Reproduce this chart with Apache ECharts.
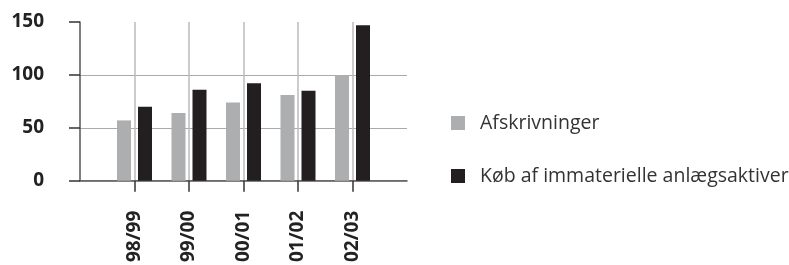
<!DOCTYPE html>
<html>
<head>
<meta charset="utf-8">
<script src="https://cdn.jsdelivr.net/npm/echarts@6/dist/echarts.min.js"></script>
<style>
  html, body { margin: 0; padding: 0; background: #fff; }
  #chart { width: 789px; height: 265px; }
</style>
</head>
<body>
<div id="chart"></div>
<script>
// Periods (regnskabsår)
const categories = ["98/99", "99/00", "00/01", "01/02", "02/03"];
const afskrivninger = [57, 64, 74, 81, 100];
const koebImmaterielle = [70, 86, 92, 85, 147];
const seriesNames = ["Afskrivninger", "Køb af immaterielle anlægsaktiver"];
const yTicks = [0, 50, 100, 150];

// bars sit on the tick lines, so pad the axis with an empty slot each side
const axisData = ["", ...categories, ""];
const pad = (arr) => ["-", ...arr, "-"];
const inner = (i) => i > 0 && i < axisData.length - 1;

const chart = echarts.init(document.getElementById("chart"));

const option = {
  animation: false,
  textStyle: { fontFamily: "Open Sans" },
  grid: { left: 80, right: 382, top: 22, bottom: 83 },
  legend: {
    orient: "vertical",
    left: 446,
    top: 108,
    itemWidth: 14,
    itemHeight: 14,
    itemGap: 33,
    icon: "rect",
    textStyle: { fontSize: 19.5, color: "#333", padding: [0, 0, 0, 10] },
    data: seriesNames,
  },
  xAxis: {
    type: "category",
    data: axisData,
    boundaryGap: false,
    axisLine: { lineStyle: { color: "#555", width: 1.5 } },
    axisTick: {
      length: 11,
      interval: inner,
      lineStyle: { color: "#333", width: 1.5 },
    },
    splitLine: {
      show: true,
      interval: inner,
      lineStyle: { color: "#bbb", width: 1.5 },
    },
    axisLabel: {
      rotate: 90,
      margin: 30,
      fontSize: 19,
      fontWeight: "bold",
      color: "#222",
      interval: 0,
    },
  },
  yAxis: {
    type: "value",
    min: yTicks[0],
    max: yTicks[yTicks.length - 1],
    interval: 50,
    axisLine: { show: true, lineStyle: { color: "#555", width: 1.5 } },
    axisTick: { show: true, length: 11, lineStyle: { color: "#333", width: 1.5 } },
    splitLine: {
      show: true,
      showMaxLine: false,
      lineStyle: { color: "#aaa", width: 1 },
    },
    axisLabel: {
      margin: 36,
      fontSize: 19,
      fontWeight: "bold",
      color: "#222",
    },
  },
  series: [
    {
      name: seriesNames[0],
      type: "bar",
      data: pad(afskrivninger),
      barWidth: 14,
      barGap: "50%",
      itemStyle: { color: "#adaeb0" },
    },
    {
      name: seriesNames[1],
      type: "bar",
      data: pad(koebImmaterielle),
      barWidth: 14,
      itemStyle: { color: "#231f20" },
    },
  ],
};

chart.setOption(option);
</script>
</body>
</html>
